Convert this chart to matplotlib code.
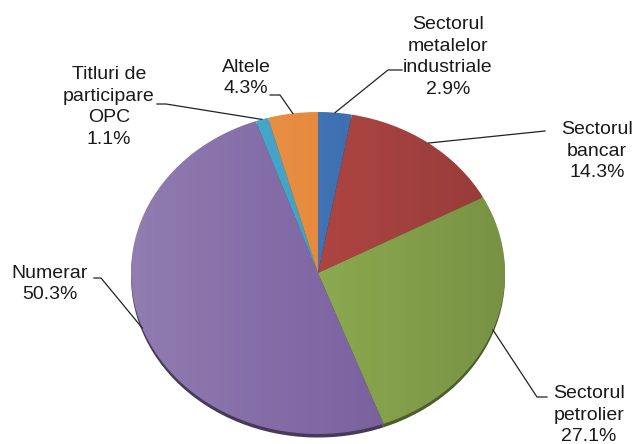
import numpy as np
import matplotlib
matplotlib.use("Agg")
import matplotlib.pyplot as plt
from matplotlib.patches import Circle
from matplotlib.colors import to_rgb

# data
labels = ["Sectorul\nmetalelor\nindustriale", "Sectorul\nbancar", "Sectorul\npetrolier",
          "Numerar", "Titluri de\nparticipare\nOPC", "Altele"]
values = [2.9, 14.3, 27.1, 50.3, 1.1, 4.3]
colors = ["#4072b4", "#ad4542", "#8ba94f", "#8068a4", "#3fa2c4", "#e68b3e"]

plt.rcParams['font.family'] = ['Liberation Sans', 'DejaVu Sans']

# layout (pixels)
W, H = 634, 444
cx, cy, rx, ry = 318, 273, 187, 161

def px(x, y):
    # pixel -> pie data coords
    return (x - cx) / rx, (cy - y) / ry

fig = plt.figure(figsize=(W / 100, H / 100), dpi=100)
ax = fig.add_axes([0, 0, 1, 1])

# shadow under the pie
dark = [tuple(c * 0.55 for c in to_rgb(col)) for col in colors]
ax.pie(values, colors=dark, startangle=90, counterclock=False, center=(0, -0.022),
       wedgeprops=dict(linewidth=0))
wedges, _ = ax.pie(values, colors=colors, startangle=90, counterclock=False,
                   wedgeprops=dict(linewidth=0))

ax.set_aspect('auto')
ax.set_xlim(px(0, 0)[0], px(W, 0)[0])
ax.set_ylim(px(0, H)[1], px(0, 0)[1])
ax.axis('off')

# light-to-dark shading across the pie
grad = np.zeros((2, 200, 4))
t = np.linspace(0, 1, 200)
grad[:, :, :3] = np.where(t[:, None] < 0.5, 1.0, 0.0)
grad[:, :, 3] = np.abs(t - 0.5) * 0.28
img = ax.imshow(grad, extent=(-1, 1, -1, 1), aspect='auto', zorder=3)
img.set_clip_path(Circle((0, 0), 1, transform=ax.transData))

# label text positions and leader line elbows (pixels)
text_pos = [(448, 57), (597, 151), (589, 415), (50, 284), (109, 107), (246, 78)]
elbows = [[(388, 70), (402, 70)],
          [(545, 131)],
          [(537, 397), (547, 397)],
          [(101, 278), (94, 278)],
          [(166, 104), (157, 104)],
          [(280, 95), (270, 95)]]

total = sum(values)
cum = 0
for i, v in enumerate(values):
    mid = 90 - (cum + v / 2) / total * 360
    cum += v
    a = np.deg2rad(mid)
    pts = [(np.cos(a), np.sin(a))] + [px(*p) for p in elbows[i]]
    xs, ys = zip(*pts)
    ax.plot(xs, ys, color='#222222', lw=0.9, zorder=4)
    tx, ty = px(*text_pos[i])
    ax.text(tx, ty, f"{labels[i]}\n{values[i]:.1f}%", ha='center', va='center',
            multialignment='center', fontsize=14, linespacing=1.36, color='#1a1a1a')

fig.savefig("out.png", dpi=100)
